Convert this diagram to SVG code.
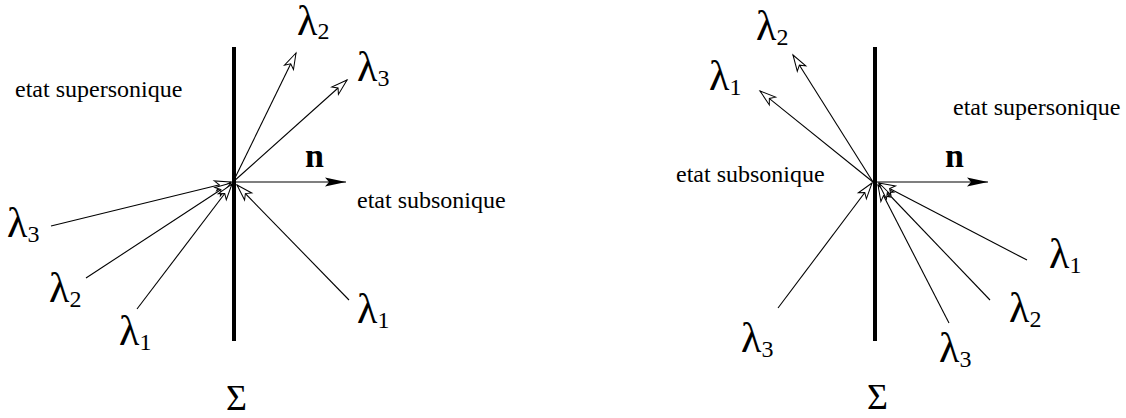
<svg xmlns="http://www.w3.org/2000/svg" width="1126" height="418" viewBox="0 0 1126 418">
<style>
.lbl{font-family:"Liberation Serif","Times New Roman",serif;font-size:24px;fill:#000}
.lam{font-family:"Liberation Serif","Times New Roman",serif;font-size:42px;fill:#000}
.sub{font-size:24px}
.bold{font-family:"Liberation Serif","Times New Roman",serif;font-size:34px;font-weight:bold;fill:#000}
.sig{font-family:"Liberation Serif","Times New Roman",serif;font-size:36px;fill:#000}
.ray{stroke:#000;stroke-width:1.1;fill:none;marker-end:url(#open)}
.nv{stroke:#000;stroke-width:1.1;fill:none;marker-end:url(#solid)}
.bar{stroke:#000;stroke-width:4;fill:none}
</style>
<defs>
<marker id="open" markerUnits="userSpaceOnUse" orient="auto" refX="0" refY="0" markerWidth="20" markerHeight="12" overflow="visible"><path d="M0,0 L-16,-5 L-12,0 L-16,5 Z" fill="#fff" stroke="#000" stroke-width="1"/></marker>
<marker id="solid" markerUnits="userSpaceOnUse" orient="auto" refX="0" refY="0" markerWidth="22" markerHeight="12" overflow="visible"><path d="M0,0 L-21,-4.5 L-17,0 L-21,4.5 Z" fill="#000" stroke="none"/></marker>
</defs>
<g id="left-surface"><line class="bar" x1="234" y1="47" x2="234" y2="341"/></g>
<g id="right-surface"><line class="bar" x1="875" y1="47" x2="875" y2="341"/></g>
<g id="connectors">
<line class="nv" x1="236" y1="182" x2="346" y2="182"/>
<line class="ray" x1="233" y1="182" x2="296" y2="53"/>
<line class="ray" x1="233" y1="182" x2="347" y2="80"/>
<line class="ray" x1="51" y1="226" x2="231" y2="182"/>
<line class="ray" x1="86" y1="278" x2="231" y2="183"/>
<line class="ray" x1="137" y1="309" x2="232" y2="184"/>
<line class="ray" x1="349" y1="300" x2="237" y2="185"/>
<line class="nv" x1="877" y1="182" x2="988" y2="182"/>
<line class="ray" x1="873" y1="182" x2="793" y2="55"/>
<line class="ray" x1="873" y1="182" x2="760" y2="91"/>
<line class="ray" x1="778" y1="308" x2="872" y2="183"/>
<line class="ray" x1="949" y1="323" x2="878" y2="185"/>
<line class="ray" x1="990" y1="300" x2="879" y2="184"/>
<line class="ray" x1="1027" y1="260" x2="879" y2="183"/>
</g>
<g id="left-labels">
<text class="lbl" x="15" y="97">etat supersonique</text>
<text class="lbl" x="357" y="208">etat subsonique</text>
<text class="bold" x="305" y="167">n</text>
<text class="sig" x="226" y="410">Σ</text>
<text class="lam" x="297" y="35">λ<tspan class="sub" dy="4">2</tspan></text>
<text class="lam" x="357" y="81">λ<tspan class="sub" dy="5">3</tspan></text>
<text class="lam" x="7" y="237">λ<tspan class="sub" dy="5">3</tspan></text>
<text class="lam" x="49" y="302">λ<tspan class="sub" dy="5">2</tspan></text>
<text class="lam" x="119" y="345">λ<tspan class="sub" dy="5">1</tspan></text>
<text class="lam" x="357" y="323">λ<tspan class="sub" dy="5">1</tspan></text>
</g>
<g id="right-labels">
<text class="lbl" x="953" y="115">etat supersonique</text>
<text class="lbl" x="676" y="182">etat subsonique</text>
<text class="bold" x="945" y="167">n</text>
<text class="sig" x="867" y="409">Σ</text>
<text class="lam" x="756" y="40">λ<tspan class="sub" dy="5">2</tspan></text>
<text class="lam" x="709" y="90">λ<tspan class="sub" dy="5">1</tspan></text>
<text class="lam" x="741" y="352">λ<tspan class="sub" dy="5">3</tspan></text>
<text class="lam" x="939" y="362">λ<tspan class="sub" dy="5">3</tspan></text>
<text class="lam" x="1009" y="322">λ<tspan class="sub" dy="5">2</tspan></text>
<text class="lam" x="1049" y="268">λ<tspan class="sub" dy="5">1</tspan></text>
</g>
</svg>
